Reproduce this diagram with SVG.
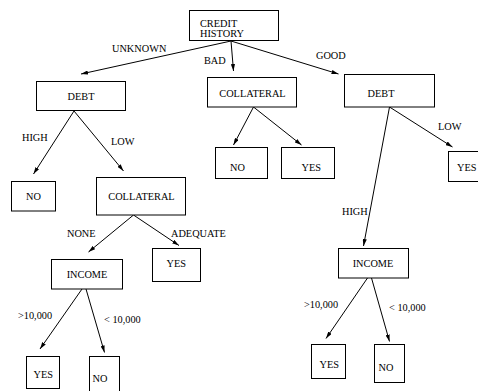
<svg xmlns="http://www.w3.org/2000/svg" width="478" height="391" viewBox="0 0 478 391">
  <style>
    .box { fill: #fff; stroke: #000; stroke-width: 1; }
    .lbl { font-family: "Liberation Serif", "Times New Roman", serif; font-size: 10.3px; fill: #000; }
    .edge { stroke: #000; stroke-width: 1; fill: none; marker-end: url(#arr); }
  </style>
  <defs>
    <marker id="arr" viewBox="0 0 10 6" refX="10" refY="3" markerWidth="7" markerHeight="4.2" orient="auto" markerUnits="userSpaceOnUse">
      <path d="M0,0 L10,3 L0,6 z" fill="#000"/>
    </marker>
  </defs>
  <rect width="478" height="391" fill="#fff"/>

  <g id="connectors">
    <line class="edge" x1="231" y1="41" x2="81" y2="74"/>
    <line class="edge" x1="231" y1="41" x2="233.5" y2="71"/>
    <line class="edge" x1="231" y1="41" x2="338.5" y2="74"/>
    <line class="edge" x1="74" y1="111" x2="33.5" y2="174"/>
    <line class="edge" x1="74" y1="111" x2="123.5" y2="171"/>
    <line class="edge" x1="253.5" y1="107" x2="233.5" y2="145"/>
    <line class="edge" x1="253.5" y1="107" x2="301.5" y2="145"/>
    <line class="edge" x1="389.5" y1="107" x2="452.5" y2="147"/>
    <line class="edge" x1="389.5" y1="107" x2="363.5" y2="246"/>
    <line class="edge" x1="133.5" y1="215" x2="88.5" y2="252"/>
    <line class="edge" x1="133.5" y1="215" x2="179" y2="245.5"/>
    <line class="edge" x1="82" y1="289" x2="40" y2="349"/>
    <line class="edge" x1="86" y1="289" x2="104.5" y2="352.5"/>
    <line class="edge" x1="367.5" y1="278" x2="326" y2="338.5"/>
    <line class="edge" x1="371.5" y1="278" x2="389.5" y2="341.5"/>
  </g>

  <g id="edge-labels">
    <text class="lbl" x="112" y="52">UNKNOWN</text>
    <text class="lbl" x="204" y="63.5">BAD</text>
    <text class="lbl" x="316" y="58.5">GOOD</text>
    <text class="lbl" x="22" y="141">HIGH</text>
    <text class="lbl" x="111" y="145">LOW</text>
    <text class="lbl" x="438" y="130">LOW</text>
    <text class="lbl" x="342" y="214.5">HIGH</text>
    <text class="lbl" x="67" y="237">NONE</text>
    <text class="lbl" x="171" y="237">ADEQUATE</text>
    <text class="lbl" x="18" y="318.5">&gt;10,000</text>
    <text class="lbl" x="104" y="323">&lt; 10,000</text>
    <text class="lbl" x="304" y="307.5">&gt;10,000</text>
    <text class="lbl" x="389" y="311">&lt; 10,000</text>
  </g>

  <g id="credit-history">
    <rect class="box" x="189.5" y="10.5" width="89" height="30"/>
    <text class="lbl" x="200" y="26.5">CREDIT</text>
    <text class="lbl" x="200" y="37">HISTORY</text>
  </g>
  <g id="debt-unknown">
    <rect class="box" x="36.5" y="81.5" width="89" height="29"/>
    <text class="lbl" x="81" y="100" text-anchor="middle">DEBT</text>
  </g>
  <g id="collateral-bad">
    <rect class="box" x="207.5" y="77.5" width="89" height="29.5"/>
    <text class="lbl" x="252.5" y="96.5" text-anchor="middle">COLLATERAL</text>
  </g>
  <g id="debt-good">
    <rect class="box" x="344.5" y="74.5" width="90" height="32.5"/>
    <text class="lbl" x="381" y="96.5" text-anchor="middle">DEBT</text>
  </g>
  <g id="no-high">
    <rect class="box" x="11.5" y="181.5" width="44" height="29.5"/>
    <text class="lbl" x="26" y="200">NO</text>
  </g>
  <g id="collateral-low">
    <rect class="box" x="96.5" y="177.5" width="89" height="37.5"/>
    <text class="lbl" x="141.5" y="200" text-anchor="middle">COLLATERAL</text>
  </g>
  <g id="no-bad">
    <rect class="box" x="215.5" y="147.5" width="52" height="31"/>
    <text class="lbl" x="230" y="171">NO</text>
  </g>
  <g id="yes-bad">
    <rect class="box" x="281.5" y="147.5" width="53" height="31"/>
    <text class="lbl" x="301.5" y="171">YES</text>
  </g>
  <g id="yes-low">
    <rect class="box" x="448.5" y="151.5" width="40" height="30"/>
    <text class="lbl" x="457" y="171">YES</text>
  </g>
  <g id="yes-adequate">
    <rect class="box" x="152.5" y="248.5" width="48" height="33"/>
    <text class="lbl" x="166.5" y="267">YES</text>
  </g>
  <g id="income-none">
    <rect class="box" x="51.5" y="259.5" width="71" height="29.5"/>
    <text class="lbl" x="87" y="277.5" text-anchor="middle">INCOME</text>
  </g>
  <g id="income-high">
    <rect class="box" x="338.5" y="248.5" width="70" height="29.5"/>
    <text class="lbl" x="373" y="267" text-anchor="middle">INCOME</text>
  </g>
  <g id="yes-income-left">
    <rect class="box" x="26.5" y="356.5" width="33" height="32"/>
    <text class="lbl" x="33.5" y="378">YES</text>
  </g>
  <g id="no-income-left">
    <rect class="box" x="89.5" y="356.5" width="30" height="40"/>
    <text class="lbl" x="92.5" y="382">NO</text>
  </g>
  <g id="yes-income-right">
    <rect class="box" x="311.5" y="344.5" width="34" height="34"/>
    <text class="lbl" x="319.5" y="367.5">YES</text>
  </g>
  <g id="no-income-right">
    <rect class="box" x="374.5" y="344.5" width="30" height="38"/>
    <text class="lbl" x="378.5" y="371">NO</text>
  </g>
</svg>
